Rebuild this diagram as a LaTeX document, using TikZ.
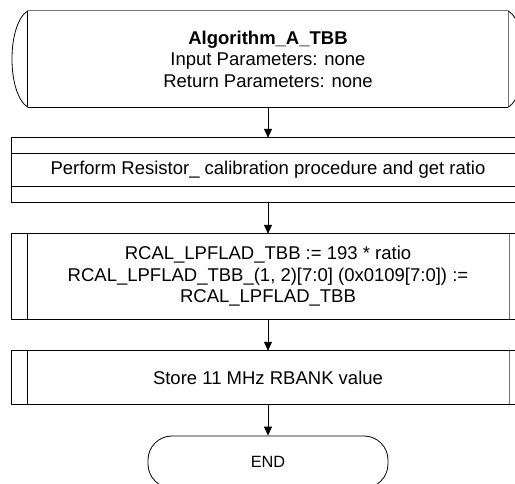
\documentclass[tikz,border=0pt]{standalone}
\usepackage{fontspec}
\setmainfont{Liberation Sans}
\usetikzlibrary{arrows.meta}
\begin{document}
\begin{tikzpicture}[x=1pt,y=-1pt,
  txt/.style={inner sep=0pt, align=center, font=\fontsize{18.5}{21.5}\selectfont},
  edge/.style={draw=black, line width=0.8pt},
  grayedge/.style={draw=black!55, line width=0.9pt},
  conn/.style={draw=black, line width=0.8pt, -{Triangle[length=9pt,width=8pt]}}]
\useasboundingbox (0,0) rectangle (515,484);
\fill[white] (0,0) rectangle (515,484);
\clip (0,0) rectangle (515,484);

% start (module header)
\node[txt, minimum width=480pt, minimum height=96pt] (start) at (268,59)
  {\textbf{Algorithm\_A\_TBB}\\Input Parameters: none\\Return Parameters: none};
\draw[grayedge] (start.north west) -- (start.north east);
\draw[edge] (start.south west) -- (start.south east);
\draw[edge] (start.north west) -- (start.south west);
\draw[grayedge] (start.north east) -- (start.south east);
\draw[edge] (start.north west) .. controls (6.7,24) and (6.7,94) .. (start.south west);
\draw[edge] (start.north east) .. controls (529.3,24) and (529.3,94) .. (start.south east);

% process with header/footer bands
\node[txt, minimum width=512pt, minimum height=64pt] (proc) at (268,170)
  {Perform Resistor\_ calibration procedure and get ratio};
\draw[edge] (proc.north west) rectangle (proc.south east);
\draw[edge] ([yshift=-16pt]proc.north west) -- ([yshift=-16pt]proc.north east);
\draw[edge] ([yshift=16pt]proc.south west) -- ([yshift=16pt]proc.south east);

% calculation (predefined process)
\node[txt, minimum width=512pt, minimum height=85pt] (calc) at (268,276.5)
  {RCAL\_LPFLAD\_TBB := 193 * ratio\\RCAL\_LPFLAD\_TBB\_(1, 2)[7:0] (0x0109[7:0]) :=\\RCAL\_LPFLAD\_TBB};
\draw[edge] (calc.north west) rectangle (calc.south east);
\draw[edge] ([xshift=16pt]calc.north west) -- ([xshift=16pt]calc.south west);
\draw[grayedge] ([xshift=-15pt]calc.north east) -- ([xshift=-15pt]calc.south east);

% store (predefined process)
\node[txt, minimum width=512pt, minimum height=53pt] (store) at (268,377.5)
  {Store 11 MHz RBANK value};
\draw[edge] (store.north west) rectangle (store.south east);
\draw[edge] ([xshift=16pt]store.north west) -- ([xshift=16pt]store.south west);
\draw[grayedge] ([xshift=-15pt]store.north east) -- ([xshift=-15pt]store.south east);

% terminator
\node[edge, rounded corners=24pt, minimum width=240pt, minimum height=52pt, inner sep=0pt,
  font=\fontsize{16.3}{19}\selectfont] (endn) at (268,462) {END};

% connectors
\draw[conn] (start.south) -- (proc.north);
\draw[conn] (proc.south) -- (calc.north);
\draw[conn] (calc.south) -- (store.north);
\draw[conn] (store.south) -- (endn.north);
\end{tikzpicture}
\end{document}
